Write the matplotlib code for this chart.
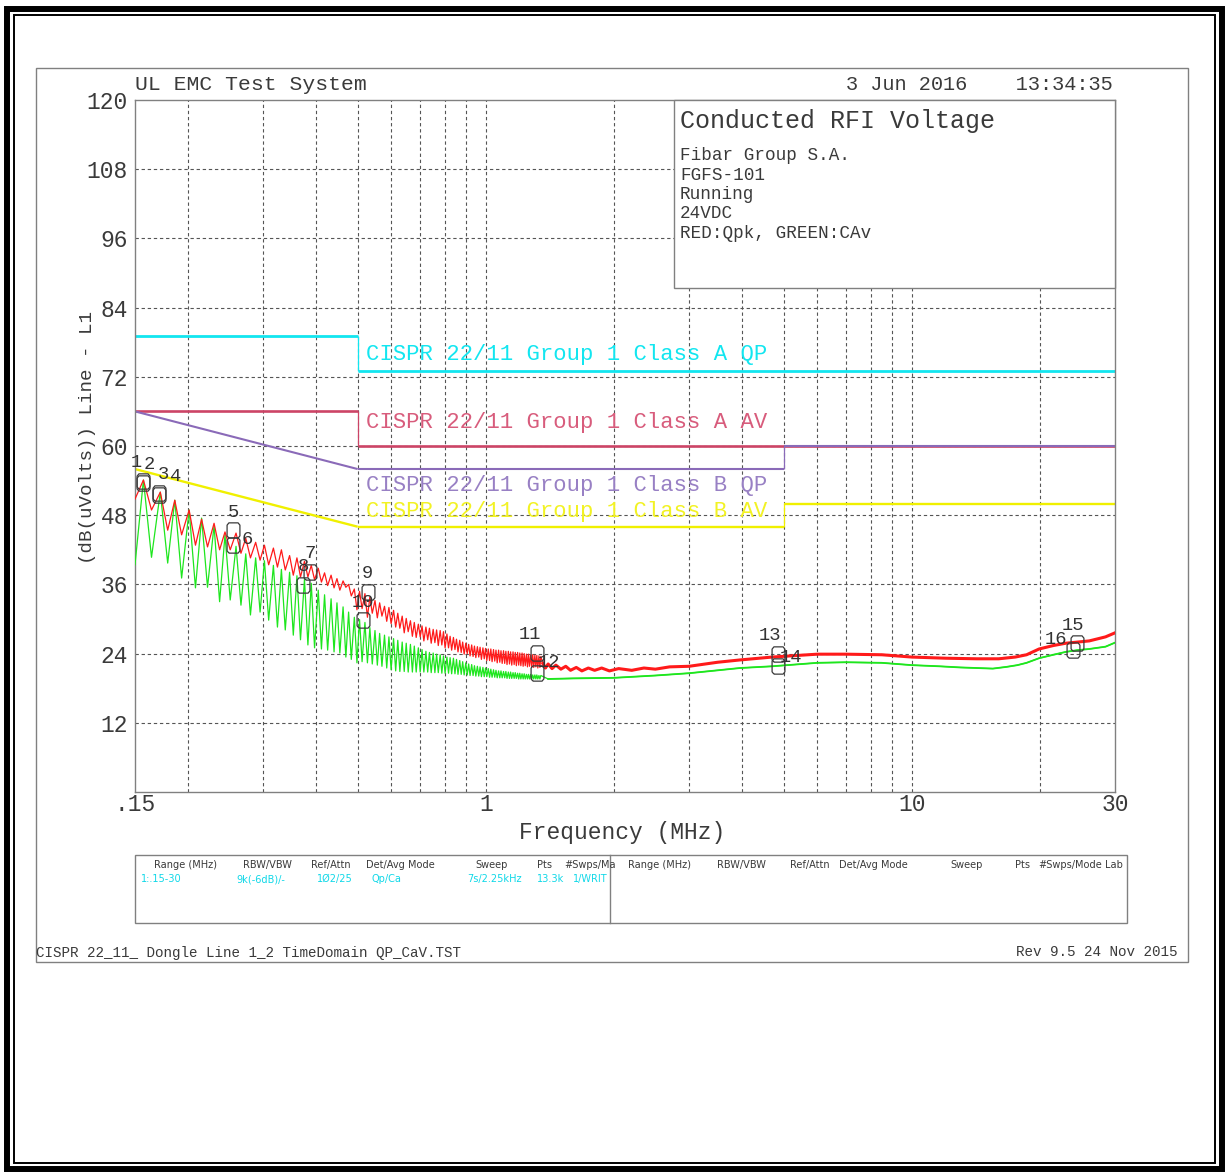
import numpy as np
import matplotlib.pyplot as plt
from matplotlib.patches import Rectangle
from matplotlib.ticker import NullLocator, NullFormatter

W, H = 1227, 1176

# ripple region of the sweep (kHz): peaks and the dip just before each peak
peak_khz = [157, 172, 186, 201, 215, 230, 244, 259, 273, 288,
            302, 317, 331, 346, 360, 375, 389, 404, 418, 433,
            447, 462, 476, 491, 505, 520, 534, 549, 563, 578,
            592, 607, 621, 636, 650, 665, 679, 694, 708, 723,
            737, 752, 766, 781, 795, 810, 824, 839, 853, 868,
            882, 897, 911, 926, 940, 955, 969, 984, 998, 1013,
            1027, 1042, 1056, 1071, 1085, 1100, 1114, 1129, 1143, 1158,
            1172, 1187, 1201, 1216, 1230, 1245, 1259, 1274, 1288, 1303,
            1317, 1332, 1346]
trough_khz = [150, 164, 179, 193, 208, 222, 237, 251, 266, 280,
              295, 309, 324, 338, 353, 367, 382, 396, 411, 425,
              440, 454, 469, 483, 498, 512, 527, 541, 556, 570,
              585, 599, 614, 628, 643, 657, 672, 686, 701, 715,
              730, 744, 759, 773, 788, 802, 817, 831, 846, 860,
              875, 889, 904, 918, 933, 947, 962, 976, 991, 1005,
              1020, 1034, 1049, 1063, 1078, 1092, 1107, 1121, 1136, 1150,
              1165, 1179, 1194, 1208, 1223, 1237, 1252, 1266, 1281, 1295,
              1310, 1324, 1339]

# GREEN: CAv
green_peak_db = [54.1, 52.0, 50.6, 48.9, 47.5, 46.2, 44.6, 42.6, 41.3, 40.6,
                 40.1, 39.3, 38.6, 38.1, 37.5, 36.9, 36.2, 35.0, 34.2, 33.5,
                 32.8, 32.1, 31.2, 30.3, 29.9, 29.4, 28.5, 28.0, 27.5, 27.2,
                 26.9, 26.6, 26.3, 26.0, 25.8, 25.6, 25.3, 25.0, 24.7, 24.4,
                 24.2, 24.1, 23.9, 23.8, 23.6, 23.4, 23.3, 23.2, 23.0, 22.8,
                 22.6, 22.4, 22.2, 22.1, 21.9, 21.8, 21.7, 21.6, 21.5, 21.4,
                 21.3, 21.2, 21.1, 21.0, 21.0, 20.9, 20.9, 20.8, 20.8, 20.7,
                 20.7, 20.6, 20.6, 20.5, 20.5, 20.4, 20.4, 20.4, 20.3, 20.3,
                 20.3, 20.2, 20.2]
green_trough_db = [39.4, 40.7, 39.7, 37.1, 35.4, 35.5, 33.0, 33.3, 32.4, 30.7,
                   31.2, 29.8, 28.6, 28.1, 27.2, 26.4, 25.5, 25.0, 24.8, 24.6,
                   24.3, 24.1, 23.4, 23.0, 22.4, 22.6, 22.4, 22.2, 22.0, 21.8,
                   21.5, 21.2, 21.0, 20.9, 20.9, 20.8, 20.8, 20.8, 20.8, 20.8,
                   20.8, 20.7, 20.7, 20.7, 20.6, 20.6, 20.6, 20.5, 20.5, 20.4,
                   20.4, 20.3, 20.3, 20.2, 20.2, 20.1, 20.1, 20.0, 20.0, 20.0,
                   19.9, 19.9, 19.9, 19.8, 19.8, 19.8, 19.8, 19.7, 19.7, 19.7,
                   19.7, 19.7, 19.6, 19.6, 19.6, 19.6, 19.6, 19.6, 19.6, 19.6,
                   19.6, 19.6, 19.6]
green_tail_mhz = [1.40, 1.60, 2.0, 2.5, 3.0, 3.5, 3.95, 4.7, 6.0, 7.0,
                  8.5, 10.0, 11.6, 13.0, 14.2, 15.5, 16.7, 17.7, 18.6, 19.9,
                  21.5, 23.0, 24.5, 26.1, 28.5, 30.0]
green_tail_db = [19.6, 19.7, 19.8, 20.2, 20.6, 21.1, 21.5, 21.8, 22.4, 22.5,
                 22.4, 22.0, 21.8, 21.6, 21.5, 21.4, 21.7, 22.0, 22.4, 23.2,
                 23.8, 24.3, 24.6, 24.8, 25.2, 25.9]

# RED: Qpk
red_peak_db = [54.1, 52.0, 50.6, 48.9, 47.3, 46.6, 45.1, 44.9, 44.0, 43.3,
               42.8, 42.3, 42.0, 41.0, 40.6, 40.0, 39.3, 38.8, 38.0, 37.6,
               37.0, 36.6, 36.0, 35.2, 34.8, 34.4, 33.8, 33.2, 32.8, 32.2,
               32.0, 31.5, 31.0, 30.5, 30.1, 29.7, 29.4, 29.1, 28.8, 28.6,
               28.4, 28.2, 28.1, 28.0, 27.8, 27.4, 27.0, 26.8, 26.5, 26.3,
               26.0, 25.8, 25.6, 25.5, 25.3, 25.2, 25.1, 25.0, 24.9, 24.8,
               24.8, 24.7, 24.6, 24.6, 24.5, 24.5, 24.4, 24.4, 24.3, 24.3,
               24.2, 24.2, 24.1, 24.1, 24.0, 23.9, 23.9, 23.8, 23.8, 23.7,
               23.7, 23.6, 23.5]
red_trough_db = [50.8, 48.9, 45.4, 44.6, 42.8, 42.5, 42.0, 42.0, 41.4, 40.6,
                 40.2, 39.4, 39.0, 38.5, 37.6, 37.3, 37.3, 36.8, 36.4, 35.8,
                 35.4, 35.0, 35.5, 34.0, 31.6, 31.8, 30.3, 31.0, 30.2, 30.5,
                 29.6, 29.2, 28.6, 28.4, 27.6, 27.8, 27.0, 26.8, 26.9, 26.2,
                 26.4, 25.8, 25.9, 25.4, 25.5, 25.0, 25.0, 24.6, 24.7, 24.3,
                 24.2, 23.9, 24.0, 23.6, 23.5, 23.3, 23.4, 23.0, 23.1, 22.8,
                 22.8, 22.6, 22.7, 22.4, 22.5, 22.3, 22.3, 22.1, 22.2, 22.0,
                 22.1, 21.9, 22.0, 21.9, 21.8, 21.9, 21.7, 21.8, 21.7, 21.6,
                 21.7, 21.5, 21.6]
red_tail_mhz = [1.36, 1.38, 1.40, 1.43, 1.46, 1.50, 1.54, 1.58, 1.63, 1.68,
                1.74, 1.80, 1.87, 1.95, 2.05, 2.2, 2.35, 2.5, 2.7, 3.0,
                3.5, 3.95, 4.7, 6.0, 7.0, 8.5, 10.0, 12.0, 14.2, 16.0,
                17.5, 18.6, 19.9, 21.5, 23.0, 26.1, 28.5, 30.0]
red_tail_db = [22.3, 21.5, 22.2, 21.4, 22.0, 21.3, 21.8, 21.1, 21.6, 21.0,
               21.5, 21.1, 21.5, 21.0, 21.4, 21.1, 21.5, 21.3, 21.7, 21.8,
               22.5, 22.9, 23.4, 23.9, 23.9, 23.8, 23.4, 23.2, 23.1, 23.1,
               23.4, 23.8, 24.8, 25.4, 25.8, 26.2, 26.9, 27.6]

# limit lines (MHz, dBuV)
lim_a_qp_mhz = [0.15, 0.5, 0.5, 30]
lim_a_qp_db = [79, 79, 73, 73]
lim_a_av_mhz = [0.15, 0.5, 0.5, 30]
lim_a_av_db = [66, 66, 60, 60]
lim_b_qp_mhz = [0.15, 0.5, 5, 5, 30]
lim_b_qp_db = [66, 56, 56, 60, 60]
lim_b_av_mhz = [0.15, 0.5, 5, 5, 30]
lim_b_av_db = [56, 46, 46, 50, 50]

# markers (odd = Qpk, even = CAv)
marker_ids = list(range(1, 17))
marker_mhz = [0.157, 0.157, 0.171, 0.171, 0.255, 0.255, 0.386, 0.372,
              0.528, 0.515, 1.316, 1.316, 4.85, 4.85, 24.4, 23.9]
marker_db = [54.0, 53.6, 51.9, 51.5, 45.4, 42.9, 38.2, 35.9,
             34.7, 29.8, 24.1, 20.6, 24.0, 21.9, 25.8, 24.6]

grid_mhz = [0.2, 0.3, 0.4, 0.5, 0.6, 0.7, 0.8, 0.9, 1, 2, 3, 4, 5, 6, 7, 8, 9, 10, 20]
y_ticks = [12, 24, 36, 48, 60, 72, 84, 96, 108, 120]
x_ticks = [0.15, 1, 10, 30]
x_ticklabels = ['.15', '1', '10', '30']

info_lines = ['Fibar Group S.A.', 'FGFS-101', 'Running', '24VDC', 'RED:Qpk, GREEN:CAv']

tbl_hdr = ['Range (MHz)', 'RBW/VBW', 'Ref/Attn', 'Det/Avg Mode', 'Sweep', 'Pts', '#Swps/Ma']
tbl_hdr_x = [186, 267, 331, 400, 492, 545, 590]
tbl_val = ['1:.15-30', '9k(-6dB)/-', '1Ø2/25', 'Qp/Ca', '7s/2.25kHz', '13.3k', '1/WRIT']
tbl_val_x = [161, 261, 335, 386, 495, 551, 590]
tbl_hdr2 = ['Range (MHz)', 'RBW/VBW', 'Ref/Attn', 'Det/Avg Mode', 'Sweep', 'Pts', '#Swps/Mode', 'Lab']
tbl_hdr2_x = [660, 741, 810, 873, 967, 1022, 1070, 1114]

plt.rcParams['font.family'] = ['Liberation Mono', 'DejaVu Sans Mono']
TXT = '#3a3a3a'
GRAY = '#808080'
RED = '#ff1a1a'
GREEN = '#1ee61e'
CYAN = '#12e6f0'
CRIMSON = '#cc4466'
PURPLE = '#8a6ab8'
YELLOW = '#f0f000'

fig = plt.figure(figsize=(W / 100, H / 100), dpi=100)
ax = fig.add_axes([135 / W, 1 - 792 / H, 980 / W, 692 / H])
ax.set_xscale('log')
ax.set_xlim(0.15, 30)
ax.set_ylim(0, 120)
ax.set_xticks(x_ticks, labels=x_ticklabels)
ax.xaxis.set_minor_locator(NullLocator())
ax.xaxis.set_minor_formatter(NullFormatter())
ax.set_yticks(y_ticks)
ax.tick_params(length=0, labelsize=16.5, colors=TXT)
ax.tick_params(axis='y', pad=5)
ax.tick_params(axis='x', pad=1)
for s in ax.spines.values():
    s.set_color(GRAY)
    s.set_linewidth(1.0)

dash = (0, (3, 2.5))
for f in grid_mhz:
    ax.axvline(f, color='#555555', lw=0.8, ls=dash, zorder=0.5)
for y in y_ticks[:-1]:
    ax.axhline(y, color='#555555', lw=0.8, ls=dash, zorder=0.5)


def limit_line(f, db, color, lw):
    # the instrument draws the steps thin, the flat/sloped parts thicker
    for i in range(len(f) - 1):
        vert = f[i] == f[i + 1]
        ax.plot(f[i:i + 2], db[i:i + 2], color=color, lw=0.9 if vert else lw,
                solid_capstyle='butt', zorder=2)


limit_line(lim_a_qp_mhz, lim_a_qp_db, CYAN, 2.0)
limit_line(lim_a_av_mhz, lim_a_av_db, CRIMSON, 1.9)
limit_line(lim_b_av_mhz, lim_b_av_db, YELLOW, 1.7)
limit_line(lim_b_qp_mhz, lim_b_qp_db, PURPLE, 1.5)

lim_labels = [('CISPR 22/11 Group 1 Class A QP', CYAN, 75.9),
              ('CISPR 22/11 Group 1 Class A AV', '#d85c7c', 64.0),
              ('CISPR 22/11 Group 1 Class B QP', '#9880c4', 53.2),
              ('CISPR 22/11 Group 1 Class B AV', '#f2f224', 48.7)]
for txt, col, yv in lim_labels:
    ax.text(0.522, yv, txt, color=col, fontsize=16, ha='left', va='center', zorder=2)

# traces: ripple part as dip/peak vertices followed by the smooth tail
assert len(peak_khz) == len(trough_khz) == len(green_peak_db) == len(green_trough_db)
assert len(red_peak_db) == len(red_trough_db) == len(peak_khz)
n = len(peak_khz)
rip_f = np.empty(2 * n)
rip_f[0::2] = trough_khz
rip_f[1::2] = peak_khz
rip_f = rip_f / 1000.0

g_db = np.empty(2 * n)
g_db[0::2] = green_trough_db
g_db[1::2] = green_peak_db
r_db = np.empty(2 * n)
r_db[0::2] = red_trough_db
r_db[1::2] = red_peak_db

ax.plot(np.concatenate([rip_f, green_tail_mhz]), np.concatenate([g_db, green_tail_db]),
        color=GREEN, lw=0.9, zorder=3)
ax.plot(green_tail_mhz, green_tail_db, color=GREEN, lw=1.3, zorder=3)
ax.plot(np.concatenate([rip_f, red_tail_mhz]), np.concatenate([r_db, red_tail_db]),
        color=RED, lw=0.9, zorder=4)
ax.plot(red_tail_mhz, red_tail_db, color=RED, lw=2.2, zorder=4)

box = [(-0.3, -0.5), (0.3, -0.5), (0.42, -0.35), (0.42, 0.35), (0.3, 0.5),
       (-0.3, 0.5), (-0.42, 0.35), (-0.42, -0.35), (-0.3, -0.5)]
ax.plot(marker_mhz, marker_db, ls='none', marker=box, ms=11, mfc='none',
        mec='#3a3a3a', mew=0.9, zorder=5)

# label offsets (points) so that stacked marker pairs stay readable
label_off = {1: (-5, 13), 2: (4, 13), 3: (3, 13), 4: (12, 13),
             6: (10, 4),
             11: (-5, 13), 12: (9, 8), 13: (-6, 13), 14: (9, 6),
             15: (-3, 13), 16: (-12, 8)}
for k, f, d in zip(marker_ids, marker_mhz, marker_db):
    dx, dy = label_off.get(k, (0, 13))
    ax.annotate(str(k), (f, d), xytext=(dx, dy), textcoords='offset points',
                ha='center', va='center', fontsize=13.5, color='#333333', zorder=6)

# page furniture in pixel coordinates
ov = fig.add_axes([0, 0, 1, 1])
ov.set_xlim(0, W)
ov.set_ylim(H, 0)
ov.axis('off')
ov.set_zorder(3)

ov.add_patch(Rectangle((7, 9), 1215, 1160, fill=False, ec='black', lw=4.3))
ov.add_patch(Rectangle((13.5, 14.5), 1201.5, 1148.5, fill=False, ec='black', lw=1.4))
ov.add_patch(Rectangle((36, 68), 1152, 894, fill=False, ec=GRAY, lw=1.0))

ov.text(135, 85, 'UL EMC Test System', fontsize=15.4, color=TXT, va='center')
ov.text(1113, 85, '3 Jun 2016    13:34:35', fontsize=14.6, color=TXT, ha='right', va='center')

ov.add_patch(Rectangle((674, 100), 441, 188, fc='white', ec=GRAY, lw=1.0))
ov.text(680, 121, 'Conducted RFI Voltage', fontsize=18, color=TXT, va='center')
for i, line in enumerate(info_lines):
    ov.text(680, 156 + 19.3 * i, line, fontsize=12.7, color=TXT, va='center')

ov.text(87, 437, '(dB(uVolts)) Line - L1', rotation=90, fontsize=13.8, color=TXT,
        ha='center', va='center')
ov.text(622, 833, 'Frequency (MHz)', fontsize=16.5, color=TXT, ha='center', va='center')

ov.add_patch(Rectangle((135, 855), 992, 68, fill=False, ec=GRAY, lw=1.0))
ov.plot([610, 610], [855, 923], color=GRAY, lw=1.0)
tfont = dict(family='DejaVu Sans', fontstretch='condensed', fontsize=7.8, va='center', ha='center')
for t, x in zip(tbl_hdr, tbl_hdr_x):
    ov.text(x, 865, t, color=TXT, **tfont)
for t, x in zip(tbl_val, tbl_val_x):
    ov.text(x, 879, t, color='#10d8e8', **tfont)
for t, x in zip(tbl_hdr2, tbl_hdr2_x):
    ov.text(x, 865, t, color=TXT, **tfont)

ov.text(36, 953, 'CISPR 22_11_ Dongle Line 1_2 TimeDomain QP_CaV.TST', fontsize=10.3,
        color=TXT, va='center')
ov.text(1178, 952, 'Rev 9.5 24 Nov 2015', fontsize=10.3, color=TXT, ha='right', va='center')

fig.savefig('out.png', dpi=100)
